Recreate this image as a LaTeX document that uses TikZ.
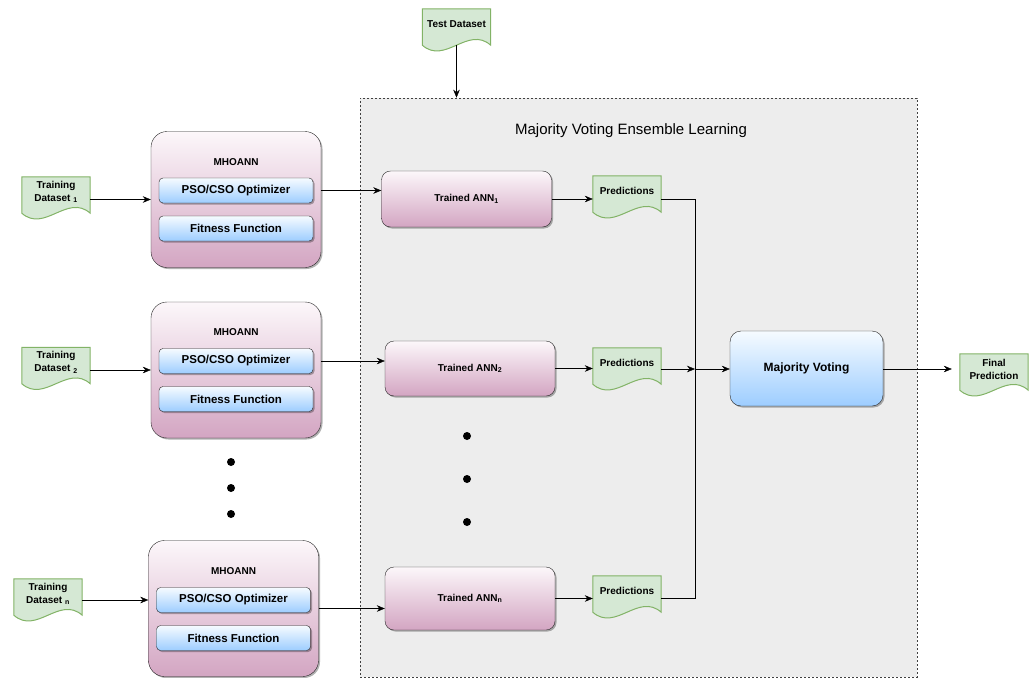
\documentclass[tikz,border=0pt]{standalone}
\usepackage{fontspec}
\setmainfont{Liberation Sans}
\usetikzlibrary{calc, arrows.meta, positioning, shadows}

\pgfdeclarelayer{back}
\pgfdeclarelayer{docs}
\pgfsetlayers{back,docs,main}

\definecolor{pinktop}{HTML}{FCF7FA}
\definecolor{pinkbot}{HTML}{D3A5C2}
\definecolor{bluetop}{HTML}{F6FBFF}
\definecolor{bluebot}{HTML}{9DCDFF}
\definecolor{docfill}{HTML}{D5E8D4}
\definecolor{docline}{HTML}{82B366}
\definecolor{ensfill}{HTML}{EDEDED}

\begin{document}
\begin{tikzpicture}[x=1pt, y=-1pt, >={Stealth[length=8pt, width=6.5pt]}, line width=0.8pt]
		\tikzstyle{shade} = [drop shadow={shadow xshift=1.5pt, shadow yshift=-1.5pt, opacity=0.3, fill=black}]
		\tikzstyle{mho} = [draw=black!85, rounded corners=16pt, top color=pinktop, bottom color=pinkbot, minimum width=170pt, minimum height=136pt, shade]
		\tikzstyle{ann} = [draw=black!85, rounded corners=9pt, top color=pinktop, bottom color=pinkbot, minimum width=170pt, font=\fontsize{10}{12}\selectfont\bfseries, shade]
		\tikzstyle{inner} = [draw=black!85, rounded corners=4pt, top color=bluetop, bottom color=bluebot, minimum width=154pt, minimum height=25pt, font=\fontsize{11.5}{13}\selectfont\bfseries, shade]
		\tikzstyle{vote} = [draw=black!85, rounded corners=11pt, top color=bluetop, bottom color=bluebot, minimum width=153pt, minimum height=75pt, font=\fontsize{12}{14}\selectfont\bfseries, shade]
		\tikzstyle{doc} = [minimum width=68pt, minimum height=30pt, inner sep=1pt, align=center, font=\fontsize{10}{13}\selectfont\bfseries]
		\tikzstyle{docshape} = [draw=docline, fill=docfill, line width=1pt]
		\tikzstyle{label} = [font=\fontsize{10}{12}\selectfont\bfseries]
		\tikzstyle{ens} = [draw=black!75, dashed, dash pattern=on 2pt off 2pt, fill=ensfill, line width=0.6pt, minimum width=557pt, minimum height=579pt]
		
		\useasboundingbox (0,0) rectangle (1035,677);
		
		\begin{pgfonlayer}{back}
		\node[ens]				at (638.5,387.5)	(ens)	{};
		\end{pgfonlayer}
		\node[font=\fontsize{15}{17}\selectfont]	at (631,131)	(enstitle)	{Majority Voting Ensemble Learning};
		
		% input data
		\node[doc]				at (456.5,24)	(test)	{Test Dataset};
		\node[doc]				at (56,192)		(td1)	{Training\\Dataset \textsubscript{1}};
		\node[doc]				at (56,362.5)	(td2)	{Training\\Dataset \textsubscript{2}};
		\node[doc]				at (48,594)		(td3)	{Training\\Dataset \textsubscript{n}};
		
		% MHOANN blocks
		\node[mho]				at (236,199.5)	(mho1)	{};
		\node[label]			at (236,162)	(mhoT1)	{MHOANN};
		\node[inner]			at (236,190.5)	(pso1)	{PSO/CSO Optimizer};
		\node[inner]			at (236,228.5)	(fit1)	{Fitness Function};
		
		\node[mho]				at (236,370)	(mho2)	{};
		\node[label]			at (236,332)	(mhoT2)	{MHOANN};
		\node[inner]			at (236,361)	(pso2)	{PSO/CSO Optimizer};
		\node[inner]			at (236,399)	(fit2)	{Fitness Function};
		
		\node[mho]				at (233.5,608.5)	(mho3)	{};
		\node[label]			at (233.5,571)	(mhoT3)	{MHOANN};
		\node[inner]			at (233.5,600)	(pso3)	{PSO/CSO Optimizer};
		\node[inner]			at (233.5,638)	(fit3)	{Fitness Function};
		
		% trained networks
		\node[ann, minimum height=56pt]	at (466.5,199)	(ann1)	{Trained ANN\textsubscript{1}};
		\node[ann, minimum height=55pt]	at (470,368.5)	(ann2)	{Trained ANN\textsubscript{2}};
		\node[ann, minimum height=63pt]	at (470,598.5)	(ann3)	{Trained ANN\textsubscript{n}};
		
		\node[doc]				at (627,191)	(pred1)	{Predictions};
		\node[doc]				at (627,363)	(pred2)	{Predictions};
		\node[doc]				at (627,591)	(pred3)	{Predictions};
		
		\node[vote]				at (806.5,368.5)	(mv)	{Majority Voting};
		\node[doc]				at (994,369)	(fp)	{Final\\Prediction};
		
		\begin{pgfonlayer}{docs}
		\foreach \n in {test,td1,td2,td3,pred1,pred2,pred3,fp}
			\draw[docshape] (\n.north west) -- (\n.north east) -- ([yshift=-6pt]\n.south east)
				.. controls +(-22.7pt,20pt) and +(22.7pt,-20pt) .. ([yshift=-6pt]\n.south west) -- cycle;
		\end{pgfonlayer}
		
		\foreach \y in {462,488,514}
			\fill (231,\y) circle (4pt);
		\foreach \y in {436,479,522}
			\fill (467,\y) circle (4pt);
		
		\coordinate (merge) at (695,369);
		
		\path[->]
		([yshift=-6pt]test.south)	edge	(test.south |- ens.north)
		(td1.east |- mho1.west)	edge	(mho1.west)
		(td2.east |- mho2.west)	edge	(mho2.west)
		(td3.east |- pso3.west)	edge	(pso3.west -| mho3.west)
		(pso1.east -| mho1.east)	edge	(pso1.east -| ann1.west)
		(pso2.east -| mho2.east)	edge	(pso2.east -| ann2.west)
		(mho3.east)	edge	(mho3.east -| ann3.west)
		(ann1.east)	edge	(ann1.east -| pred1.west)
		(ann2.east)	edge	(ann2.east -| pred2.west)
		(ann3.east)	edge	(ann3.east -| pred3.west)
		(pred2.east |- merge)	edge	(merge)
		(merge)	edge	(merge -| mv.west)
		(mv.east |- merge)	edge[shorten >=8pt]	(fp.west |- merge);
		
		\draw (pred1.east |- ann1.east) -| (merge);
		\draw (pred3.east |- ann3.east) -| (merge);
\end{tikzpicture}
\end{document}
